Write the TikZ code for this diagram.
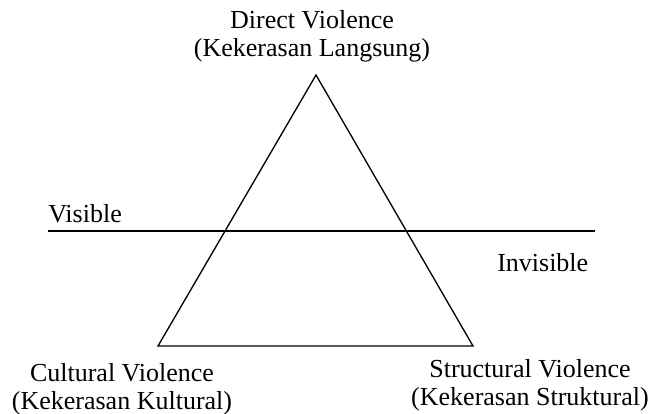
\documentclass[tikz,border=0pt]{standalone}
\usepackage{fontspec}
\setmainfont{Liberation Serif}
\usetikzlibrary{positioning}

\begin{document}
\begin{tikzpicture}[
  x=0.75pt, y=-0.75pt,
  font=\fontsize{19.5}{21}\selectfont,
  % ---- Node styles ----
  label/.style={align=center, inner sep=0pt},
  side/.style={anchor=base west, inner sep=0pt},
  % ---- Lines ----
  line/.style={line width=1pt, line join=miter}
]
\useasboundingbox (0,0) rectangle (651,414);

% ===== Triangle corners =====
\coordinate (top)   at (316, 75);
\coordinate (left)  at (158,346);
\coordinate (right) at (473,346);

% ===== Divider end points =====
\coordinate (divL) at (48, 231);
\coordinate (divR) at (595,231);

% ===== Labels =====
\node[label] (direct) at (312, 36) {Direct Violence\\(Kekerasan Langsung)};
\node[label] (cult)   at (122,389) {Cultural Violence\\(Kekerasan Kultural)};
\node[label] (struct) at (530,385) {Structural Violence\\(Kekerasan Struktural)};
\node[side]  (vis)    at (48, 222) {Visible};
\node[side]  (invis)  at (497,271) {Invisible};

% ===== Shapes =====
\draw[line] (top) -- (left) -- (right) -- cycle;
\draw[line] (divL) -- (divR);

\end{tikzpicture}
\end{document}
